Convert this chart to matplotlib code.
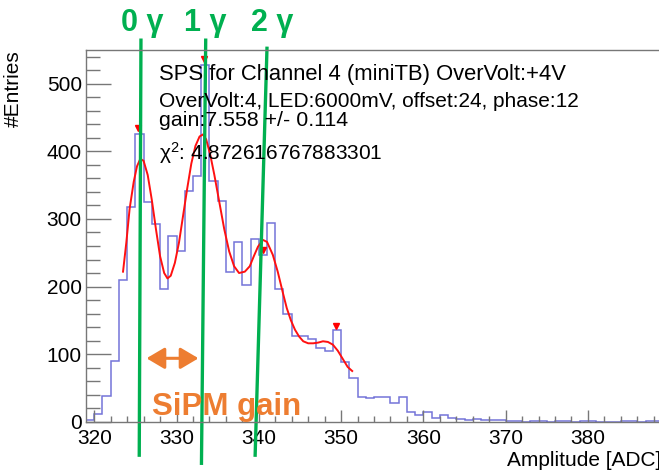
import numpy as np
import matplotlib
matplotlib.use("Agg")
import matplotlib.pyplot as plt
from matplotlib.patches import FancyArrowPatch

plt.rcParams['font.family'] = ['Liberation Sans', 'DejaVu Sans']
plt.rcParams['mathtext.fontset'] = 'custom'
plt.rcParams['mathtext.rm'] = 'Liberation Sans'
plt.rcParams['mathtext.it'] = 'Liberation Sans'

# ---------------- data ----------------
bin_edges = list(range(319, 390))  # 70 bins of width 1 ADC
counts = [2, 12, 38, 90, 210, 317, 426, 325, 292, 196,
          275, 253, 341, 364, 528, 356, 327, 221, 266, 202,
          270, 246, 294, 196, 160, 127, 127, 122, 109, 105,
          135, 88, 64, 37, 35, 37, 37, 28, 36, 15,
          10, 14, 6, 10, 6, 4, 3, 4, 2, 2,
          2, 1, 1, 0, 1, 1, 0, 1, 1, 0,
          1, 1, 0, 0, 0, 1, 1, 0, 1, 1]

fit_x = [323.5, 323.9, 324.3, 324.8, 325.2, 325.6, 326.0, 326.5, 327.0, 327.5,
         328.0, 328.5, 328.9, 329.3, 329.8, 330.3, 330.8, 331.3, 331.8, 332.3,
         332.8, 333.2, 333.6, 334.1, 334.6, 335.2, 335.8, 336.4, 337.0, 337.6,
         338.3, 338.9, 339.4, 339.9, 340.5, 341.0, 341.7, 342.3, 342.9, 343.4,
         343.9, 344.4, 344.9, 345.4, 346.0, 346.6, 347.2, 347.8, 348.4, 349.0,
         349.6, 350.2, 350.8, 351.35]
fit_y = [222, 265, 315, 355, 378, 389, 386, 365, 328, 285,
         245, 220, 212, 216, 235, 265, 305, 345, 382, 408,
         422, 425, 418, 395, 365, 325, 285, 252, 230, 220,
         222, 230, 245, 259, 269, 266, 247, 222, 192, 168,
         150, 136, 126, 119, 116, 116, 117, 119, 118, 114,
         105, 93, 81, 75]

peak_x = [325.3, 333.3, 340.5, 349.4]
peak_y = [434, 536, 254, 142]

# annotation lines (ADC at top, count at top, ADC at bottom, count at bottom)
photon_labels = ["0 γ", "1 γ", "2 γ"]
line_top_x = [325.68, 333.55, 341.0]
line_top_y = [567, 567, 555]
line_bot_x = [325.47, 333.03, 339.55]
line_bot_y = [-52, -64, -52]

W, H = 659, 475
fig = plt.figure(figsize=(W / 100, H / 100), dpi=100)

def fx(px):
    return px / W

def fy(py):
    return 1 - py / H

ax_left, ax_right, ax_top, ax_bot = 86, 662, 50, 421.7
ax = fig.add_axes([fx(ax_left), fy(ax_bot), (ax_right - ax_left) / W, (ax_bot - ax_top) / H])

ax.stairs(counts, bin_edges, color='#7474d8', linewidth=1.1)
ax.plot(fit_x, fit_y, color='#ff1010', linewidth=1.4)
ax.plot(peak_x, peak_y, linestyle='none', marker='v', color='#ff0000', markersize=5)

ax.set_xlim(319, 389)
ax.set_ylim(0, 550)
ax.set_xticks(range(320, 390, 10))
ax.set_xticks(range(320, 390, 2), minor=True)
ax.set_yticks(range(0, 501, 100))
ax.set_yticks(range(0, 541, 20), minor=True)

ax.tick_params(axis='both', which='both', direction='in', colors='#777777',
               labelcolor='black', labelsize=15, width=1.0)
ax.tick_params(axis='y', which='major', length=18, pad=3)
ax.tick_params(axis='y', which='minor', length=10)
ax.tick_params(axis='x', which='major', length=9, pad=5)
ax.tick_params(axis='x', which='minor', length=4.5)
for s in ax.spines.values():
    s.set_color('#777777')
    s.set_linewidth(1.0)

# stats text
txt_kw = dict(color='black', ha='left', va='baseline')
fig.text(fx(159), fy(80), "SPS for Channel 4 (miniTB) OverVolt:+4V", fontsize=15.8, **txt_kw)
fig.text(fx(159), fy(106.7), "OverVolt:4, LED:6000mV, offset:24, phase:12", fontsize=15, **txt_kw)
fig.text(fx(159), fy(126), "gain:7.558 +/- 0.114", fontsize=15.4, **txt_kw)
fig.text(fx(159), fy(160), "χ$^{2}$: 4.872616767883301", fontsize=15, **txt_kw)

# axis titles
fig.text(fx(661), fy(461), "Amplitude [ADC]", fontsize=15, ha='right', va='center')
fig.text(fx(23), fy(50), "#Entries", fontsize=15, rotation=90, ha='right', va='top')

# green photon-peak lines and labels
green = '#00b050'
for i in range(3):
    ax.plot([line_top_x[i], line_bot_x[i]], [line_top_y[i], line_bot_y[i]],
            color=green, linewidth=2.4, clip_on=False, solid_capstyle='butt')
label_cx = [142.3, 205, 272.5]
for i, lab in enumerate(photon_labels):
    fig.text(fx(label_cx[i]), fy(22.5), lab, fontsize=22, fontweight='bold',
             color=green, ha='center', va='center')

# orange gain arrow and label
orange = '#ed7d31'
arr = FancyArrowPatch((fx(146.5), fy(358.3)), (fx(198.5), fy(358.3)),
                      transform=fig.transFigure, arrowstyle='<|-|>,head_length=11,head_width=6.5',
                      mutation_scale=1.0, color=orange, linewidth=2.2, shrinkA=0, shrinkB=0)
fig.patches.append(arr)
fig.text(fx(152), fy(415), "SiPM gain", fontsize=22.5, fontweight='bold',
         color=orange, ha='left', va='baseline')

fig.savefig("out.png", dpi=100)
